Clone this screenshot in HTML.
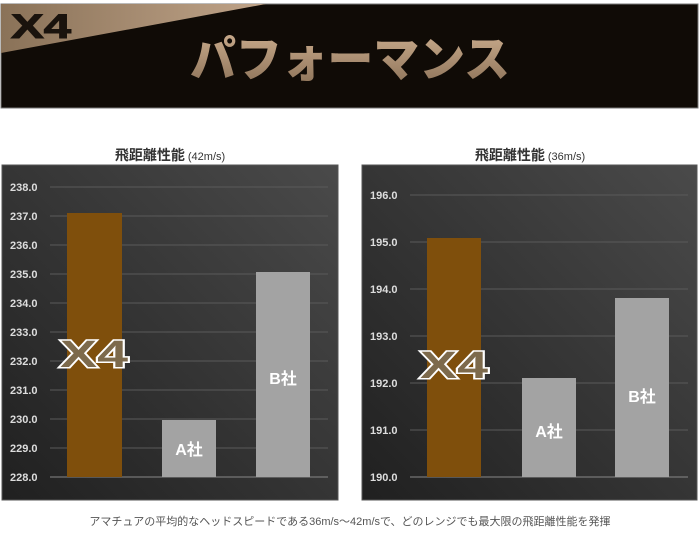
<!DOCTYPE html>
<html><head><meta charset="utf-8"><style>
html,body{margin:0;padding:0;background:#fff;width:700px;height:541px;overflow:hidden}
</style></head><body>
<svg width="700" height="541" xmlns="http://www.w3.org/2000/svg" style="position:absolute;left:0;top:0">
<defs>
<linearGradient id="gold" x1="0" y1="0" x2="1" y2="0"><stop offset="0" stop-color="#8a7258"/><stop offset="1" stop-color="#c0a489"/></linearGradient>
<linearGradient id="txt" x1="0" y1="0" x2="0" y2="1"><stop offset="0" stop-color="#c7a98a"/><stop offset="1" stop-color="#8c7258"/></linearGradient>
<linearGradient id="pan" x1="0" y1="1" x2="1" y2="0"><stop offset="0" stop-color="#202020"/><stop offset="1" stop-color="#4a4a4a"/></linearGradient>
</defs>
<rect x="1" y="4" width="697" height="104" fill="#100b06" stroke="#777" stroke-width="1"/>
<polygon points="1,4 266,4 1,53" fill="url(#gold)"/>
<text x="11" y="38" font-family="Liberation Sans, sans-serif" font-weight="bold" font-size="34" fill="#1a130d" stroke="#1a130d" stroke-width="1" textLength="60" lengthAdjust="spacingAndGlyphs">X4</text>
<text x="350" y="76" text-anchor="middle" font-family="Liberation Sans, 'Noto Sans CJK JP', sans-serif" font-weight="900" font-size="48" fill="url(#txt)" textLength="320" lengthAdjust="spacingAndGlyphs">パフォーマンス</text>

<text x="170" y="160" text-anchor="middle" font-family="Liberation Sans, 'Noto Sans CJK JP', sans-serif" font-weight="bold" font-size="14" fill="#333">飛距離性能<tspan font-size="11" font-weight="normal"> (42m/s)</tspan></text>
<text x="530" y="160" text-anchor="middle" font-family="Liberation Sans, 'Noto Sans CJK JP', sans-serif" font-weight="bold" font-size="14" fill="#333">飛距離性能<tspan font-size="11" font-weight="normal"> (36m/s)</tspan></text>

<rect x="2" y="165" width="336" height="335" fill="url(#pan)" stroke="#555"/>
<rect x="362" y="165" width="335" height="335" fill="url(#pan)" stroke="#555"/>

<g stroke="#5a5a5a" stroke-width="1">
<line x1="50" y1="187" x2="328" y2="187"/><line x1="50" y1="216" x2="328" y2="216"/><line x1="50" y1="245" x2="328" y2="245"/><line x1="50" y1="274" x2="328" y2="274"/><line x1="50" y1="303" x2="328" y2="303"/><line x1="50" y1="332" x2="328" y2="332"/><line x1="50" y1="361" x2="328" y2="361"/><line x1="50" y1="390" x2="328" y2="390"/><line x1="50" y1="419" x2="328" y2="419"/><line x1="50" y1="448" x2="328" y2="448"/><line x1="50" y1="477" x2="328" y2="477" stroke="#888"/>
<line x1="410" y1="195" x2="688" y2="195"/><line x1="410" y1="242" x2="688" y2="242"/><line x1="410" y1="289" x2="688" y2="289"/><line x1="410" y1="336" x2="688" y2="336"/><line x1="410" y1="383" x2="688" y2="383"/><line x1="410" y1="430" x2="688" y2="430"/><line x1="410" y1="477" x2="688" y2="477" stroke="#888"/>
</g>
<g font-family="Liberation Sans, sans-serif" font-weight="bold" font-size="11" fill="#ddd">
<text x="10" y="191">238.0</text><text x="10" y="220">237.0</text><text x="10" y="249">236.0</text><text x="10" y="278">235.0</text><text x="10" y="307">234.0</text><text x="10" y="336">233.0</text><text x="10" y="365">232.0</text><text x="10" y="394">231.0</text><text x="10" y="423">230.0</text><text x="10" y="452">229.0</text><text x="10" y="481">228.0</text>
<text x="370" y="199">196.0</text><text x="370" y="246">195.0</text><text x="370" y="293">194.0</text><text x="370" y="340">193.0</text><text x="370" y="387">192.0</text><text x="370" y="434">191.0</text><text x="370" y="481">190.0</text>
</g>
<rect x="67" y="213" width="55" height="264" fill="#7f4f0c"/>
<rect x="162" y="420" width="54" height="57" fill="#a3a3a3"/>
<rect x="256" y="272" width="54" height="205" fill="#a3a3a3"/>
<rect x="427" y="238" width="54" height="239" fill="#7f4f0c"/>
<rect x="522" y="378" width="54" height="99" fill="#a3a3a3"/>
<rect x="615" y="298" width="54" height="179" fill="#a3a3a3"/>
<g font-family="Liberation Sans, 'Noto Sans CJK JP', sans-serif" font-weight="bold" font-size="16" fill="#fff" text-anchor="middle">
<text x="189" y="455">A社</text><text x="283" y="384">B社</text>
<text x="549" y="437">A社</text><text x="642" y="402">B社</text>
</g>
<g font-family="Liberation Sans, sans-serif" font-weight="900" font-size="38" fill="#7d6a4c" stroke="#fff" stroke-width="3" paint-order="stroke">
<text x="60" y="367" textLength="68" lengthAdjust="spacingAndGlyphs">X4</text><text x="420" y="378" textLength="68" lengthAdjust="spacingAndGlyphs">X4</text>
</g>
<text x="350" y="525" text-anchor="middle" font-family="Liberation Sans, 'Noto Sans CJK JP', sans-serif" font-size="11" fill="#555">アマチュアの平均的なヘッドスピードである36m/s～42m/sで、どのレンジでも最大限の飛距離性能を発揮</text>
</svg>
</body></html>
